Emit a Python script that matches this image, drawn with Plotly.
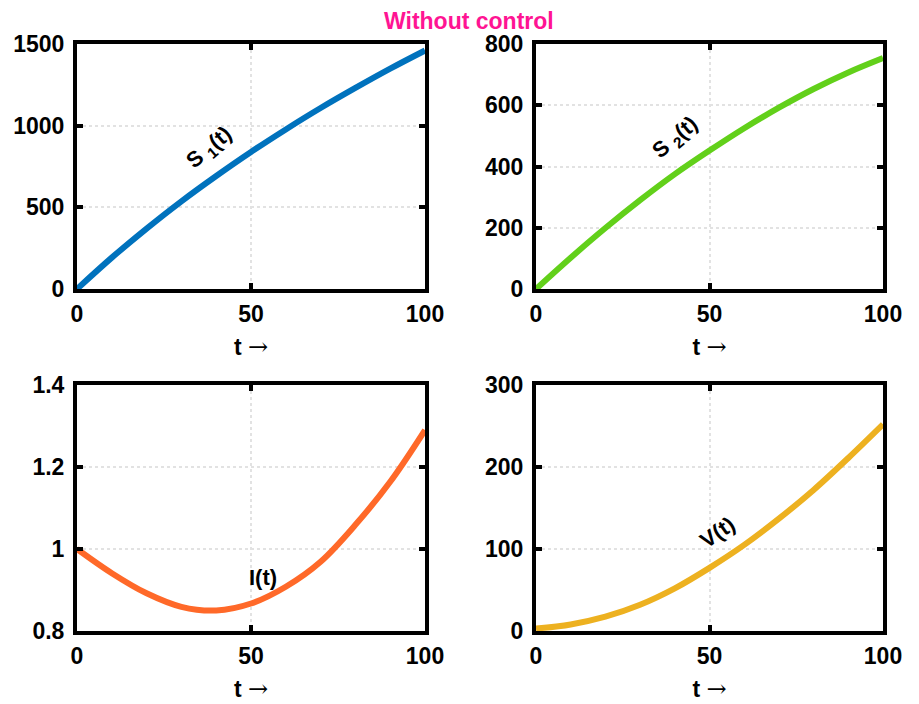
import plotly.graph_objects as go

# ---- data ----
t = [0, 10, 20, 30, 40, 50, 60, 70, 80, 90, 100]
S1 = [0, 192, 370, 537, 692, 839, 977, 1108, 1231, 1349, 1460]
S2 = [0, 102, 199, 290, 375, 452, 525, 592, 653, 707, 754]
I_vals = [1.0, 0.941, 0.892, 0.859, 0.850, 0.867, 0.908, 0.969, 1.059, 1.164, 1.29]
V = [3, 8, 17.5, 32, 52, 77, 105, 137, 172, 211, 252]

x_ticks = [0, 50, 100]
s1_ticks = [0, 500, 1000, 1500]
s2_ticks = [0, 200, 400, 600, 800]
i_ticks = [0.8, 1.0, 1.2, 1.4]
i_ticklabels = ["0.8", "1", "1.2", "1.4"]
v_ticks = [0, 100, 200, 300]

title_text = "Without control"
x_title = 't <span style="font-family:DejaVu Serif;font-weight:normal;font-size:24px">\u2192</span>'

FONT = "Liberation Sans, Arial, sans-serif"
c_s1, c_s2, c_i, c_v = "#0072BD", "#62D01A", "#FF6929", "#EDB120"
LW = 6

fig = go.Figure()
fig.add_trace(go.Scatter(x=t, y=S1, mode="lines", line=dict(color=c_s1, width=LW, shape="spline"), xaxis="x", yaxis="y"))
fig.add_trace(go.Scatter(x=t, y=S2, mode="lines", line=dict(color=c_s2, width=LW, shape="spline"), xaxis="x2", yaxis="y2"))
fig.add_trace(go.Scatter(x=t, y=I_vals, mode="lines", line=dict(color=c_i, width=LW, shape="spline"), xaxis="x3", yaxis="y3"))
fig.add_trace(go.Scatter(x=t, y=V, mode="lines", line=dict(color=c_v, width=LW, shape="spline"), xaxis="x4", yaxis="y4"))

# page body has an 8px margin: figure occupies screen pixels 8..919 / 8..704
OFF = 8
FW, FH = 919 - OFF, 704 - OFF

def xdom(a, b):
    return [(a - OFF) / FW, (b - OFF) / FW]

def ydom(top, bot):
    return [(704 - bot) / FH, (704 - top) / FH]

xd_left = xdom(77, 425)
xd_right = xdom(536, 883)
yd_top = ydom(44, 289)
yd_bot = ydom(385, 631)

TICKFONT = dict(family=FONT, size=23, color="black", weight="bold")
common = dict(
    showline=True, linecolor="black", linewidth=4, mirror="allticks",
    ticks="inside", ticklen=6, tickwidth=4, tickcolor="black",
    showgrid=True, gridcolor="#e2e2e2", gridwidth=2, griddash="dot",
    zeroline=False, tickfont=TICKFONT, automargin=False,
)

def xax(domain, anchor):
    return dict(common, domain=domain, anchor=anchor, range=[0, 100], tickvals=x_ticks,
                ticklabelstandoff=1,
                title=dict(text=x_title, font=dict(family=FONT, size=23, color="black", weight="bold"), standoff=14))

def yax(domain, anchor, rng, tv, tt=None):
    d = dict(common, domain=domain, anchor=anchor, range=rng, tickvals=tv, ticklabelstandoff=4)
    if tt is not None:
        d["ticktext"] = tt
    return d

fig.update_layout(
    width=FW, height=FH, margin=dict(l=0, r=0, t=0, b=0, autoexpand=False),
    paper_bgcolor="white", plot_bgcolor="white", showlegend=False,
    xaxis=xax(xd_left, "y"), yaxis=yax(yd_top, "x", [0, 1500], s1_ticks),
    xaxis2=xax(xd_right, "y2"), yaxis2=yax(yd_top, "x2", [0, 800], s2_ticks),
    xaxis3=xax(xd_left, "y3"), yaxis3=yax(yd_bot, "x3", [0.8, 1.4], i_ticks, i_ticklabels),
    xaxis4=xax(xd_right, "y4"), yaxis4=yax(yd_bot, "x4", [0, 300], v_ticks),
    font=dict(family=FONT, color="black"),
)

lab_font = dict(family=FONT, size=22, color="black", weight="bold")
fig.add_annotation(x=38.2, y=863, xref="x", yref="y", text="S <sub>1</sub>(t)", textangle=-40, showarrow=False, font=lab_font)
fig.add_annotation(x=40.3, y=493, xref="x2", yref="y2", text="S <sub>2</sub>(t)", textangle=-40, showarrow=False, font=lab_font)
fig.add_annotation(x=53.4, y=0.931, xref="x3", yref="y3", text="I(t)", showarrow=False, font=lab_font)
fig.add_annotation(x=52.2, y=120.7, xref="x4", yref="y4", text="V(t)", textangle=-35, showarrow=False, font=lab_font)

fig.add_annotation(x=(469 - OFF) / FW, y=1 - (21 - OFF) / FH, xref="paper", yref="paper", yanchor="middle",
                   text=title_text, showarrow=False, borderpad=0,
                   font=dict(family=FONT, size=23, color="#FF1493", weight="bold"))

fig.write_html("out.html")
